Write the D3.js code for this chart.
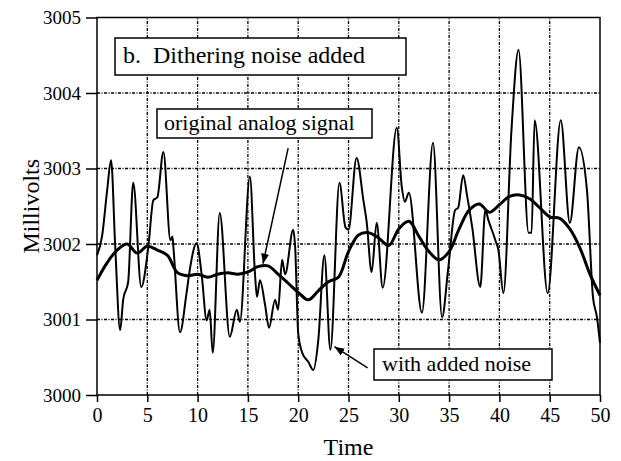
<!DOCTYPE html>
<html>
<head>
<meta charset="utf-8">
<script src="https://cdn.jsdelivr.net/npm/d3@7"></script>
<style>
  body { margin: 0; background: #fff; }
</style>
</head>
<body>
<svg id="chart" width="621" height="461"></svg>
<script>
'use strict';

// original analog signal, one sample per time unit
const signalTime = d3.range(0, 51);
const signalValue = [
    3001.52, 3001.75, 3001.92, 3002.00, 3001.88, 3001.97, 3001.92, 3001.85, 3001.62, 3001.58,
    3001.60, 3001.56, 3001.60, 3001.62, 3001.60, 3001.63, 3001.70, 3001.71, 3001.60, 3001.48,
    3001.36, 3001.26, 3001.38, 3001.50, 3001.56, 3001.90, 3002.12, 3002.15, 3002.08, 3001.98,
    3002.20, 3002.30, 3002.10, 3001.90, 3001.79, 3001.90, 3002.20, 3002.45, 3002.53, 3002.42,
    3002.52, 3002.63, 3002.65, 3002.60, 3002.48, 3002.36, 3002.34, 3002.20, 3001.95, 3001.60,
    3001.32
];

// signal with dithering noise added
const noisyTime = [
    0, 0.5, 1.0, 1.4, 1.8, 2.3, 2.6, 3.1, 3.6, 4.4,
    5.1, 5.6, 6.0, 6.6, 7.3, 7.5, 7.6, 8.25, 8.9, 9.25,
    9.9, 10.4, 10.9, 11.2, 11.5, 12.2, 13.2, 13.9, 14.2, 15.2,
    15.7, 15.9, 16.2, 16.7, 17.1, 17.7, 18.0, 18.4, 18.7, 19.5,
    19.7, 20.0, 20.4, 21.0, 21.5, 22.0, 22.6, 23.2, 24.1, 24.7,
    25.0, 25.8, 26.5, 26.8, 27.3, 27.8, 28.4, 29.8, 30.3, 30.6,
    31.0, 32.3, 33.4, 34.3, 34.9, 35.6, 35.9, 36.4, 36.8, 37.3,
    38.1, 38.6, 38.9, 39.6, 39.9, 40.4, 41.2, 41.9, 42.9, 43.2,
    43.5, 44.8, 46.1, 47.0, 47.9, 48.7, 49.3, 49.7, 50.0
];
const noisyValue = [
    3001.85, 3002.10, 3002.70, 3003.11, 3002.00, 3000.86, 3001.26, 3001.50, 3002.81, 3001.43,
    3001.96, 3002.58, 3002.62, 3003.22, 3002.05, 3002.10, 3001.95, 3000.83, 3001.35, 3001.68,
    3002.01, 3001.60, 3000.99, 3001.13, 3000.56, 3002.41, 3000.77, 3001.13, 3000.97, 3002.89,
    3001.61, 3001.30, 3001.52, 3001.20, 3000.89, 3001.26, 3001.13, 3001.79, 3001.60, 3002.19,
    3001.95, 3000.82, 3000.56, 3000.44, 3000.33, 3000.73, 3001.85, 3000.60, 3002.81, 3002.22,
    3002.19, 3003.14, 3002.56, 3002.30, 3001.63, 3002.28, 3001.42, 3003.54, 3002.75, 3002.56,
    3002.68, 3001.09, 3003.34, 3001.03, 3001.66, 3002.45, 3002.48, 3002.91, 3002.63, 3002.22,
    3001.43, 3002.45, 3002.32, 3002.05, 3001.92, 3001.35, 3003.51, 3004.57, 3002.15, 3002.15,
    3003.64, 3001.35, 3003.64, 3002.28, 3003.28, 3002.72, 3001.30, 3001.03, 3000.69
];

const xTicks = d3.range(0, 51, 5);
const yTicks = [3000, 3001, 3002, 3003, 3004, 3005];

// annotations, in data units: [t, mV]
const signalArrow = { from: [19.0, 3003.27], to: [16.5, 3001.74] };
const noiseArrow = { from: [26.9, 3000.36], to: [23.6, 3000.64] };

const width = 621, height = 461;
const margin = { top: 17.5, right: 21, bottom: 66, left: 97 };
const serif = "Liberation Serif";

const svg = d3.select("#chart");
const x = d3.scaleLinear().domain([0, 50]).range([margin.left, width - margin.right]);
const y = d3.scaleLinear().domain([3000, 3005]).range([height - margin.bottom, margin.top]);

// grid
svg.append("g").selectAll("line").data(xTicks.slice(1, -1)).join("line")
    .attr("x1", d => x(d)).attr("x2", d => x(d))
    .attr("y1", y(3000)).attr("y2", y(3005))
    .attr("stroke", "#000").attr("stroke-width", 1.3).attr("stroke-dasharray", "3,1.5,1,1.5");
svg.append("g").selectAll("line").data(yTicks.slice(1, -1)).join("line")
    .attr("x1", x(0)).attr("x2", x(50))
    .attr("y1", d => y(d)).attr("y2", d => y(d))
    .attr("stroke", "#000").attr("stroke-width", 1.3).attr("stroke-dasharray", "3,1.5,1,1.5");

// axes
const xAxis = svg.append("g")
    .attr("transform", `translate(0,${y(3000)})`)
    .call(d3.axisBottom(x).tickValues(xTicks).tickSize(7).tickPadding(6).tickFormat(d3.format("d")));
const yAxis = svg.append("g")
    .attr("transform", `translate(${x(0)},0)`)
    .call(d3.axisLeft(y).tickValues(yTicks).tickSize(11).tickPadding(5).tickFormat(d3.format("d")));
[xAxis, yAxis].forEach(g => {
    g.attr("font-family", serif);
    g.select(".domain").remove();
    g.selectAll(".tick line").attr("stroke", "#000").attr("stroke-width", 1.5);
    g.selectAll("text").attr("fill", "#000");
});
xAxis.attr("font-size", 20);
yAxis.attr("font-size", 19);
yAxis.selectAll("text").attr("dy", "0.34em");

// frame
svg.append("rect")
    .attr("x", x(0)).attr("y", y(3005))
    .attr("width", x(50) - x(0)).attr("height", y(3000) - y(3005))
    .attr("fill", "none").attr("stroke", "#000").attr("stroke-width", 1.5);

// series
const noisy = noisyTime.map((t, i) => [t, noisyValue[i]]);
const signal = signalTime.map((t, i) => [t, signalValue[i]]);

svg.append("path").datum(noisy)
    .attr("fill", "none").attr("stroke", "#000").attr("stroke-width", 2)
    .attr("stroke-linejoin", "round")
    .attr("d", d3.line().x(d => x(d[0])).y(d => y(d[1])).curve(d3.curveMonotoneX));
svg.append("path").datum(signal)
    .attr("fill", "none").attr("stroke", "#000").attr("stroke-width", 3)
    .attr("stroke-linejoin", "round")
    .attr("d", d3.line().x(d => x(d[0])).y(d => y(d[1])).curve(d3.curveCatmullRom));

// labels
svg.append("text")
    .attr("x", (x(0) + x(50)) / 2).attr("y", 455)
    .attr("text-anchor", "middle").attr("font-size", 24)
    .attr("font-family", serif)
    .text("Time");
svg.append("text")
    .attr("transform", `translate(39,${(y(3000) + y(3005)) / 2}) rotate(-90)`)
    .attr("text-anchor", "middle").attr("font-size", 24)
    .attr("font-family", serif)
    .text("Millivolts");

// boxed notes
function note(bx, by, bw, bh, tx, ty, size, label) {
    svg.append("rect")
        .attr("x", bx).attr("y", by).attr("width", bw).attr("height", bh)
        .attr("fill", "#fff").attr("stroke", "#000").attr("stroke-width", 1.5);
    svg.append("text")
        .attr("x", tx).attr("y", ty).attr("font-size", size)
        .attr("font-family", serif)
        .attr("xml:space", "preserve")
        .text(label);
}
note(115, 38, 291, 37, 123, 63, 24, "b.  Dithering noise added");
note(157, 109, 215, 29, 164, 130, 22, "original analog signal");
note(374, 349, 178, 31, 382, 371, 22, "with added noise");

// arrows
svg.append("defs").append("marker")
    .attr("id", "head").attr("viewBox", "0 0 10 10")
    .attr("refX", 10).attr("refY", 5)
    .attr("markerWidth", 10).attr("markerHeight", 10)
    .attr("markerUnits", "userSpaceOnUse")
    .attr("orient", "auto")
    .append("path").attr("d", "M0,1 L10,5 L0,9 Z").attr("fill", "#000");

[signalArrow, noiseArrow].forEach(a => {
    svg.append("line")
        .attr("x1", x(a.from[0])).attr("y1", y(a.from[1]))
        .attr("x2", x(a.to[0])).attr("y2", y(a.to[1]))
        .attr("stroke", "#000").attr("stroke-width", 1.5)
        .attr("marker-end", "url(#head)");
});
</script>
</body>
</html>
